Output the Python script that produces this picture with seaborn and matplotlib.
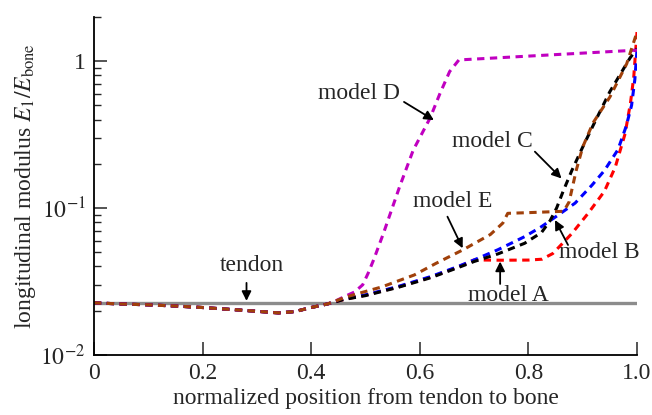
import seaborn as sns
import matplotlib.pyplot as plt
import numpy as np
import pandas as pd

# values (x: normalized position, y: E1/Ebone)
dip_x = [0.0, 0.05, 0.10, 0.15, 0.20, 0.25, 0.30, 0.34, 0.37, 0.40, 0.43]
dip_y = [0.0226, 0.0222, 0.0219, 0.0215, 0.0210, 0.0204, 0.0198, 0.0193, 0.0197, 0.0210, 0.0222]

a_x = [0.46, 0.50, 0.56, 0.62, 0.67, 0.70, 0.75, 0.80, 0.825, 0.845, 0.862, 0.88, 0.91, 0.94, 0.96, 0.978, 0.988, 0.994, 1.0]
a_y = [0.0238, 0.0255, 0.0290, 0.0338, 0.0396, 0.0443, 0.0441, 0.0442, 0.0448, 0.049, 0.057, 0.067, 0.092, 0.13, 0.19, 0.32, 0.52, 0.78, 1.58]

b_x = [0.46, 0.50, 0.56, 0.62, 0.67, 0.70, 0.744, 0.793, 0.824, 0.855, 0.886, 0.917, 0.94, 0.965, 0.98, 0.99, 0.996, 1.0]
b_y = [0.0240, 0.0256, 0.0292, 0.0341, 0.0399, 0.0443, 0.052, 0.0638, 0.0746, 0.0896, 0.108, 0.143, 0.18, 0.25, 0.36, 0.50, 0.75, 1.2]

c_x = [0.46, 0.50, 0.56, 0.62, 0.67, 0.70, 0.744, 0.793, 0.824, 0.840, 0.852, 0.864, 0.880, 0.900, 0.920, 0.950, 0.987, 1.0]
c_y = [0.0238, 0.0253, 0.0288, 0.0335, 0.0392, 0.0432, 0.0487, 0.0575, 0.068, 0.082, 0.100, 0.130, 0.180, 0.26, 0.37, 0.62, 1.05, 1.22]

d_x = [0.44, 0.46, 0.48, 0.495, 0.505, 0.515, 0.533, 0.563, 0.588, 0.619, 0.637, 0.655, 0.672, 1.0]
d_y = [0.0228, 0.0248, 0.0268, 0.0300, 0.036, 0.0443, 0.067, 0.14, 0.248, 0.41, 0.60, 0.85, 1.02, 1.19]

e_x = [0.466, 0.53, 0.59, 0.63, 0.68, 0.73, 0.753, 0.762, 0.80, 0.865, 0.875, 0.888, 0.90, 0.919, 0.95, 0.981, 1.0]
e_y = [0.0249, 0.029, 0.035, 0.042, 0.052, 0.066, 0.079, 0.092, 0.093, 0.095, 0.11, 0.18, 0.26, 0.38, 0.57, 0.96, 1.58]

tendon_x = [0.0, 1.0]
tendon_y = [0.0227, 0.0227]

models = {
    "A": (a_x, a_y, "#ff0000"),
    "B": (b_x, b_y, "#0000ff"),
    "C": (c_x, c_y, "#000000"),
    "D": (d_x, d_y, "#c000c0"),
    "E": (e_x, e_y, "#a0400a"),
}

# label text pos, arrow tail, arrow tip
labels = {
    "tendon": ((0.291, 0.0409), (0.281, 0.0309), (0.281, 0.0233)),
    "model A": ((0.763, 0.0252), (0.748, 0.0304), (0.748, 0.0432)),
    "model B": ((0.931, 0.0494), (0.873, 0.056), (0.849, 0.0828)),
    "model C": ((0.734, 0.283), (0.812, 0.242), (0.861, 0.159)),
    "model D": ((0.488, 0.603), (0.571, 0.528), (0.626, 0.397)),
    "model E": ((0.661, 0.110), (0.651, 0.0873), (0.679, 0.0532)),
}

sns.set_style("ticks")
plt.rcParams['font.family'] = ['Liberation Serif', 'DejaVu Serif']
plt.rcParams['mathtext.fontset'] = 'stix'

fig, ax = plt.subplots(figsize=(6.52, 4.15), dpi=100)
fig.subplots_adjust(left=0.144, right=0.977, bottom=0.145, top=0.959)

sns.lineplot(x=tendon_x, y=tendon_y, color="#8c8c8c", lw=2.4, ax=ax)

for name, (mx, my, col) in models.items():
    df = pd.DataFrame({"x": dip_x + mx, "y": dip_y + my})
    sns.lineplot(data=df, x="x", y="y", color=col, lw=2.2, ax=ax,
                 linestyle=(0, (2.4, 1.8)), estimator=None, sort=False)

for txt, (tpos, tail, tip) in labels.items():
    ax.text(tpos[0], tpos[1], txt, ha="center", va="center", fontsize=17)
    ax.annotate("", xy=tip, xytext=tail,
                arrowprops=dict(arrowstyle="-|>", color="black", lw=1.3,
                                mutation_scale=14, shrinkA=0, shrinkB=0))

ax.set_yscale("log")
ax.set_xlim(0, 1.0)
ax.set_ylim(0.01, 2.0)
ax.set_xticks([0, 0.2, 0.4, 0.6, 0.8, 1.0])
ax.set_xticklabels(["0", "0.2", "0.4", "0.6", "0.8", "1.0"])
ax.set_yticks([0.01, 0.1, 1])
ax.set_yticklabels(["$10^{-2}$", "$10^{-1}$", "1"])

ax.set_xlabel("normalized position from tendon to bone", fontsize=17, labelpad=3)
ax.set_ylabel("longitudinal modulus $E_1/E_{\\rm bone}$", fontsize=17, labelpad=2)

ax.tick_params(which="major", direction="in", length=9.5, width=1.1, labelsize=17, pad=6)
ax.tick_params(which="minor", direction="in", length=5, width=1.0)
ax.tick_params(axis="x", which="minor", bottom=False)
sns.despine(ax=ax)
for s in ["left", "bottom"]:
    ax.spines[s].set_linewidth(1.3)
    ax.spines[s].set_color("black")

fig.savefig("out.png", dpi=100)
